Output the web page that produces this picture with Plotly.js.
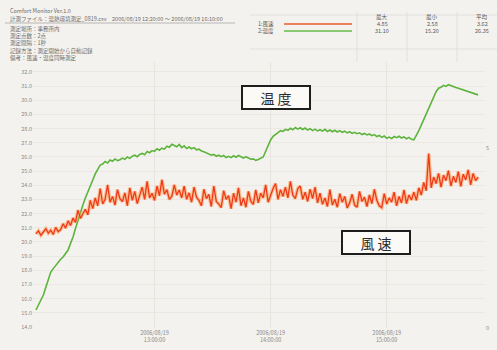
<!DOCTYPE html>
<html>
<head>
<meta charset="utf-8">
<script src="https://cdn.plot.ly/plotly-3.0.1.min.js"></script>
<style>
  html, body { margin: 0; padding: 0; background: #f4f2ee; }
  #chart { width: 497px; height: 350px; }
</style>
</head>
<body>
<div id="chart"></div>
<script>
// Temperature (°C), one reading per sample
const tempC = [
  15.20, 15.55, 15.90, 16.26, 16.80, 17.35, 17.88, 18.12, 18.35, 18.60,
  18.78, 18.94, 19.20, 19.43, 19.90, 20.35, 20.95, 21.55, 22.10, 22.61,
  23.10, 23.55, 24.05, 24.37, 24.80, 25.10, 25.43, 25.50, 25.68, 25.58,
  25.79, 25.70, 25.86, 25.74, 25.80, 25.92, 25.83, 26.00, 25.90, 26.05,
  26.12, 26.02, 26.18, 26.25, 26.16, 26.38, 26.30, 26.45, 26.40, 26.58,
  26.47, 26.62, 26.55, 26.75, 26.68, 26.90, 26.80, 26.72, 26.88, 26.66,
  26.78, 26.60, 26.70, 26.58, 26.66, 26.50, 26.55, 26.42, 26.36, 26.28,
  26.20, 26.12, 26.18, 26.05, 26.12, 26.02, 26.10, 25.96, 26.04, 25.95,
  26.08, 25.98, 26.10, 26.00, 25.92, 26.02, 25.90, 25.84, 25.86, 25.76,
  25.82, 25.90, 26.00, 26.40, 26.85, 27.20, 27.45, 27.62, 27.72, 27.85,
  27.80, 27.95, 27.88, 28.02, 27.92, 28.08, 27.96, 28.06, 27.94, 28.04,
  27.90, 28.00, 27.86, 27.96, 27.84, 27.92, 27.82, 27.95, 27.80, 27.90,
  27.78, 27.88, 27.76, 27.86, 27.74, 27.82, 27.70, 27.78, 27.66, 27.74,
  27.64, 27.70, 27.58, 27.66, 27.55, 27.62, 27.50, 27.58, 27.44, 27.52,
  27.38, 27.48, 27.32, 27.40, 27.30, 27.44, 27.36, 27.46, 27.34, 27.42,
  27.28, 27.38, 27.24, 27.20, 27.50, 27.85, 28.25, 28.65, 29.05, 29.45,
  29.90, 30.30, 30.60, 30.85, 30.92, 31.05, 30.98, 31.10, 31.02, 30.95,
  30.90, 30.84, 30.78, 30.72, 30.66, 30.62, 30.54, 30.48, 30.42, 30.38
];

// Wind speed (m/s), same sampling
const windMs = [
  2.62, 2.70, 2.58, 2.66, 2.76, 2.64, 2.72, 2.60, 2.80, 2.68,
  2.74, 2.90, 2.78, 2.98, 2.85, 3.06, 2.94, 3.28, 3.05, 3.18,
  3.30, 3.15, 3.55, 3.32, 3.62, 3.40, 3.88, 3.45, 3.58, 3.98,
  3.50, 3.66, 3.42, 3.85, 3.60, 3.52, 3.76, 3.40, 3.90, 3.55,
  3.80, 3.46, 3.70, 3.92, 3.58, 4.08, 3.62, 3.75, 3.55, 3.95,
  3.68, 4.12, 3.72, 3.85, 3.58, 3.66, 3.98, 3.70, 3.84, 3.62,
  3.95, 3.58, 3.76, 3.50, 3.92, 3.64, 3.55, 3.40, 3.86, 3.60,
  3.72, 3.38, 3.95, 3.52, 3.45, 3.35, 3.82, 3.58, 3.68, 3.32,
  3.75, 3.50, 3.90, 3.40, 3.62, 3.36, 3.80, 3.52, 3.44, 3.84,
  3.48, 3.75, 3.62, 3.98, 3.50, 3.70, 3.88, 4.02, 3.58, 3.85,
  3.66, 3.92, 3.62, 4.08, 3.70, 3.60, 3.88, 3.95, 3.58, 3.78,
  3.52, 3.86, 3.60, 3.92, 3.48, 3.75, 3.44, 3.62, 3.38, 3.85,
  3.42, 3.58, 3.36, 3.74, 3.50, 3.66, 3.34, 3.48, 3.72, 3.42,
  3.36, 3.80, 3.52, 3.64, 3.38, 3.70, 3.46, 3.86, 3.55, 3.40,
  3.35, 3.74, 3.45, 3.62, 3.50, 3.78, 3.40, 3.66, 3.48, 3.84,
  3.46, 3.70, 3.56, 3.78, 3.55, 3.90, 3.70, 4.05, 3.82, 4.85,
  3.90, 4.20, 4.02, 4.30, 3.92, 4.25, 4.10, 4.38, 3.95, 4.22,
  4.05, 4.35, 3.94, 4.28, 4.12, 4.40, 3.98, 4.30, 4.10, 4.20
];

// Time axis labels (sample index -> clock time)
const timeTickIdx = [48, 95, 142];
const timeTickText = ["2006/08/19<br>13:00:00", "2006/08/19<br>14:00:00", "2006/08/19<br>15:00:00"];

// Header block text
const headerLines = [
  "Comfort Monitor Ver.1.0",
  "計測ファイル：温熱環境測定_0819.csv　2006/08/19 12:20:00 ～ 2006/08/19 16:10:00",
  "測定場所：事務所内",
  "測定点数：2点",
  "測定間隔：1秒",
  "記録方法：測定開始から自動記録",
  "備考：風速・温度同時測定"
];
const legendNames = ["1:風速", "2:温度"];
const statHeads = ["最大", "最小", "平均"];

const sampleIdx = tempC.map((_, i) => i);

const fmax = a => Math.max(...a);
const fmin = a => Math.min(...a);
const favg = a => a.reduce((s, v) => s + v, 0) / a.length;

// pixel helpers for the header, which sits outside the plotting area
const L = 33, R = 485, T = 62, B = 328;
const px = x => (x - L) / (R - L);
const py = y => (B - y) / (B - T);

const FONT = '"Noto Sans CJK JP", "Noto Sans", sans-serif';

const traces = [
  { // soft orange halo under the wind trace
    x: sampleIdx, y: windMs, yaxis: 'y2', type: 'scatter', mode: 'lines',
    line: { color: 'rgba(255,150,70,0.55)', width: 3.6 }, hoverinfo: 'skip', showlegend: false
  },
  {
    x: sampleIdx, y: windMs, yaxis: 'y2', type: 'scatter', mode: 'lines', name: '風速',
    line: { color: '#ee3a1c', width: 1.3 }, showlegend: false
  },
  {
    x: sampleIdx, y: tempC, type: 'scatter', mode: 'lines', name: '温度',
    line: { color: '#5cb43c', width: 1.6 }, showlegend: false
  }
];

const annotations = [];
const shapes = [];

// header text lines
const hy = [11, 19, 29, 36, 43, 51, 58];
headerLines.forEach((t, k) => {
  annotations.push({
    xref: 'paper', yref: 'paper', x: px(8), y: py(hy[k]), xanchor: 'left', yanchor: 'middle',
    text: t, showarrow: false, font: { family: FONT, size: 5.5, color: '#6a6a6a' }
  });
});
shapes.push({ type: 'line', xref: 'paper', yref: 'paper', x0: px(5), x1: px(235), y0: py(23), y1: py(23),
  line: { color: '#b8b6b2', width: 1 } });
shapes.push({ type: 'line', xref: 'paper', yref: 'paper', x0: px(250), x1: px(497), y0: py(15), y1: py(15),
  line: { color: '#e2e0dc', width: 1 } });
shapes.push({ type: 'line', xref: 'paper', yref: 'paper', x0: px(250), x1: px(497), y0: py(49), y1: py(49),
  line: { color: '#e2e0dc', width: 1 } });
[357, 407, 457].forEach(x => shapes.push({ type: 'line', xref: 'paper', yref: 'paper',
  x0: px(x), x1: px(x), y0: py(12), y1: py(62), line: { color: '#e2e0dc', width: 1 } }));

// legend swatches
const legColors = ['#ee5a2c', '#66bb44'];
[24, 31].forEach((y, k) => {
  shapes.push({ type: 'line', xref: 'paper', yref: 'paper', x0: px(284), x1: px(352), y0: py(y), y1: py(y),
    line: { color: legColors[k], width: 1.3 } });
  annotations.push({ xref: 'paper', yref: 'paper', x: px(256), y: py(y), xanchor: 'left', yanchor: 'middle',
    text: legendNames[k], showarrow: false, font: { family: FONT, size: 5.5, color: '#555' } });
});

// statistics columns
const statCols = [
  [statHeads[0], fmax(windMs).toFixed(2), fmax(tempC).toFixed(2)],
  [statHeads[1], fmin(windMs).toFixed(2), fmin(tempC).toFixed(2)],
  [statHeads[2], favg(windMs).toFixed(2), favg(tempC).toFixed(2)]
];
[382, 432, 482].forEach((x, c) => {
  statCols[c].forEach((t, r) => annotations.push({
    xref: 'paper', yref: 'paper', x: px(x), y: py(17 + r * 7), xanchor: 'center', yanchor: 'middle',
    text: t, showarrow: false, font: { family: FONT, size: 5.5, color: '#555' }
  }));
});

// boxed series labels
const boxLabel = (t, x, y) => ({
  xref: 'paper', yref: 'paper', x: px(x), y: py(y), xanchor: 'center', yanchor: 'middle',
  text: t, showarrow: false, width: 64, height: 19, borderpad: 1,
  bordercolor: '#1e1e1e', borderwidth: 2, bgcolor: '#fbfaf7',
  font: { family: FONT, size: 14, color: '#2a2a2a' }
});
annotations.push(boxLabel('温 度', 276, 97));
annotations.push(boxLabel('風 速', 376, 242));

const layout = {
  width: 497, height: 350,
  margin: { l: L, r: 497 - R, t: T, b: 350 - B },
  paper_bgcolor: '#f4f2ee',
  plot_bgcolor: '#f4f2ee',
  showlegend: false,
  xaxis: {
    range: [-1.2, 181.8], showline: false, zeroline: false,
    tickvals: timeTickIdx, ticktext: timeTickText,
    tickfont: { family: FONT, size: 5.5, color: '#888' },
    showgrid: true, gridcolor: '#e8e5e0', ticks: ''
  },
  yaxis: {
    range: [13.93, 32.70], dtick: 1, tick0: 14, tickformat: '.1f',
    tickfont: { family: FONT, size: 5.5, color: '#8a8a8a' },
    showgrid: true, gridcolor: '#ebe8e3', zeroline: false, showline: false, ticks: ''
  },
  yaxis2: {
    overlaying: 'y', side: 'right', range: [0, 7.4],
    tickvals: [0, 5], tickfont: { family: FONT, size: 5.5, color: '#8a8a8a' },
    showgrid: false, zeroline: false, showline: false, ticks: ''
  },
  annotations: annotations,
  shapes: shapes
};

Plotly.newPlot('chart', traces, layout, { staticPlot: true, displayModeBar: false });
</script>
</body>
</html>
